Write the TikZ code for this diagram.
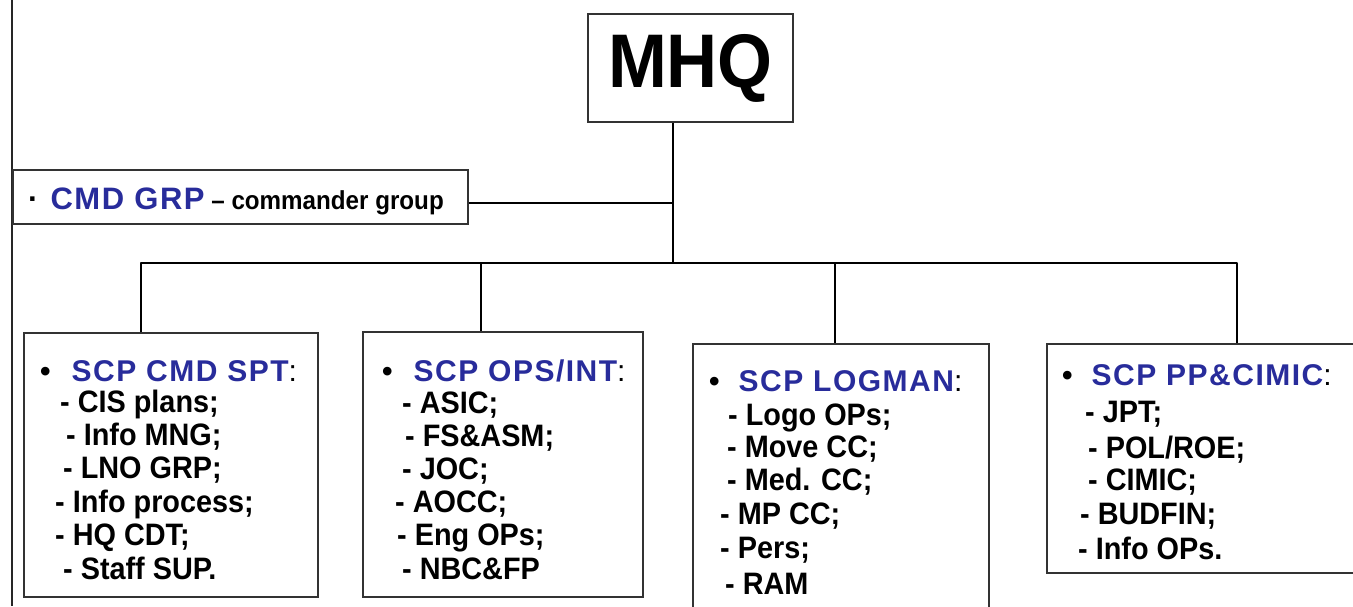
\documentclass[tikz,border=0pt]{standalone}
\usepackage{fontspec}
\setmainfont{Liberation Sans}
\newfontfamily\mhqfont{Liberation Sans Bold}[FakeStretch=0.93]
\newfontfamily\headfont{Liberation Sans Bold}[LetterSpace=5]
\newfontfamily\itemfont{Liberation Sans Bold}[FakeStretch=0.93]
\newfontfamily\plainfont{Liberation Sans}
\definecolor{hblue}{RGB}{40,44,155}
\newcommand{\headcolon}{{\plainfont:}}
\begin{document}
\begin{tikzpicture}[x=1pt,y=-1pt,
  unitbox/.style={draw=black!80, line width=1.4pt, rectangle, inner sep=0pt, fill=white},
  wire/.style={draw=black, line width=2.2pt, line join=round},
  head/.style={anchor=base west, inner sep=0pt, font=\headfont\fontsize{30}{32}\selectfont},
  item/.style={anchor=base west, inner sep=0pt, font=\itemfont\fontsize{31}{33}\selectfont},
]
% canvas
\fill[white] (0,0) rectangle (1353,606);
\clip (0,0) rectangle (1353,606);
\draw[black!85, line width=1.4pt] (12,0) -- (12,606);

% top of the tree
\node[unitbox, minimum width=205pt, minimum height=108pt,
      font=\mhqfont\fontsize{76}{76}\selectfont] (mhq) at (690.5,68) {MHQ};
\node[unitbox, minimum width=455pt, minimum height=54pt] (cmd) at (240.5,197) {};
\node[anchor=base west, inner sep=0pt, font=\headfont\fontsize{31}{31}\selectfont] (cmdtxt) at (28,209)
  {·\hspace{12pt}\textcolor{hblue}{CMD GRP}{\itemfont\fontsize{26}{26}\selectfont\ – commander group}};

% staff branches
\node[unitbox, minimum width=294pt, minimum height=264pt] (b1) at (171,465) {};
\node[unitbox, minimum width=280pt, minimum height=265pt] (b2) at (503,464.5) {};
\node[unitbox, minimum width=296pt, minimum height=276pt] (b3) at (841,482) {};
\node[unitbox, minimum width=333pt, minimum height=229pt] (b4) at (1213.5,458.5) {};

% junctions
\coordinate (hub) at (673,263);
\coordinate (tee) at (673,203);
\coordinate (d1) at (141,263);
\coordinate (d2) at (481,263);
\coordinate (d3) at (835,263);
\coordinate (d4) at (1237,263);

\draw[wire] (mhq.south -| hub) -- (hub);
\draw[wire] (cmd.east |- tee) -- (tee);
\draw[wire] (d1 |- b1.north) -- (d1) -- (d4) -- (d4 |- b4.north);
\draw[wire] (d2) -- (d2 |- b2.north);
\draw[wire] (d3) -- (d3 |- b3.north);

% SCP CMD SPT
\node[head] (h1) at (40,381) {•\hspace{21pt}\textcolor{hblue}{SCP CMD SPT}\headcolon};
\node[item] (i11) at (60,412) {- CIS plans;};
\node[item] (i12) at (66,445) {- Info MNG;};
\node[item] (i13) at (63,478) {- LNO GRP;};
\node[item] (i14) at (55,512) {- Info process;};
\node[item] (i15) at (55,545) {- HQ CDT;};
\node[item] (i16) at (63,579) {- Staff SUP.};

% SCP OPS/INT
\node[head] (h2) at (382,381) {•\hspace{21pt}\textcolor{hblue}{SCP OPS/INT}\headcolon};
\node[item] (i21) at (402,413) {- ASIC;};
\node[item] (i22) at (405,446) {- FS\&ASM;};
\node[item] (i23) at (402,479) {- JOC;};
\node[item] (i24) at (395,512) {- AOCC;};
\node[item] (i25) at (397,545) {- Eng OPs;};
\node[item] (i26) at (402,579) {- NBC\&FP};

% SCP LOGMAN
\node[head] (h3) at (709,391) {•\hspace{19pt}\textcolor{hblue}{SCP LOGMAN}\headcolon};
\node[item] (i31) at (728,425) {- Logo OPs;};
\node[item] (i32) at (727,457) {- Move CC;};
\node[item] (i33) at (727,490) {- Med. CC;};
\node[item] (i34) at (720,524) {- MP CC;};
\node[item] (i35) at (720,558) {- Pers;};
\node[item] (i36) at (725,594) {- RAM};

% SCP PP&CIMIC
\node[head] (h4) at (1062,385) {•\hspace{19pt}\textcolor{hblue}{SCP PP\&CIMIC}\headcolon};
\node[item] (i41) at (1085,422) {- JPT;};
\node[item] (i42) at (1088,458) {- POL/ROE;};
\node[item] (i43) at (1088,490) {- CIMIC;};
\node[item] (i44) at (1080,524) {- BUDFIN;};
\node[item] (i45) at (1078,559) {- Info OPs.};
\end{tikzpicture}
\end{document}
